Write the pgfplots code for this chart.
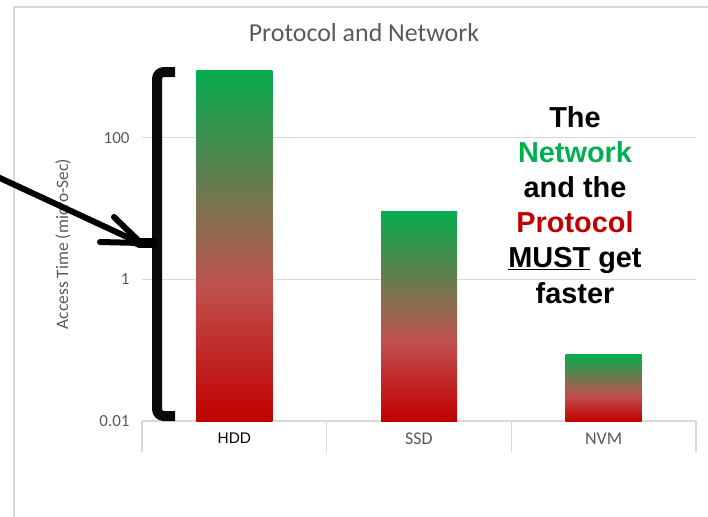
\documentclass[border=0pt]{standalone}
\usepackage{pgfplots}
\pgfplotsset{compat=1.18}
\usepackage{fontspec}
\setmainfont{Carlito}
\newfontfamily\arialfont{Liberation Sans}
\definecolor{txtgray}{HTML}{595959}
\definecolor{gridgray}{HTML}{D9D9D9}
\definecolor{xgreen}{HTML}{00B050}
\definecolor{xred}{HTML}{C00000}
\pgfdeclareverticalshading{barshade}{100bp}{rgb(0bp)=(0.753,0,0); rgb(25bp)=(0.753,0,0); rgb(44bp)=(0.753,0.314,0.302); rgb(75bp)=(0.02,0.675,0.31); rgb(100bp)=(0.02,0.675,0.31)}
\begin{document}
\begin{tikzpicture}
\useasboundingbox (0,0) rectangle (708bp,-517bp);
\draw[gridgray, line width=1.2bp] (14bp,-540bp) -- (14bp,-7bp) -- (740bp,-7bp);
\begin{axis}[
  at={(142bp,-421bp)}, anchor=south west,
  scale only axis, width=554bp, height=354bp,
  ymode=log, ymin=0.01, ymax=1000, log origin=infty,
  xmin=-0.5, xmax=2.5,
  axis x line*=bottom, axis y line*=left,
  y axis line style={draw=none},
  x axis line style={draw=gridgray, line width=1.2bp},
  ytick={0.01,1,100}, yticklabels={0.01,1,100},
  ymajorgrids, grid style={gridgray, line width=1.2bp},
  ytick style={draw=none},
  xtick={-0.5,0.5,1.5,2.5},
  x tick label as interval,
  xticklabels={{\arialfont\color{black}\fontsize{15.5}{15.5}\selectfont HDD},SSD,NVM},
  xtick style={draw=gridgray, line width=1.2bp},
  tick align=outside, major tick length=31bp,
  /pgf/number format/assume math mode=true,
  yticklabel style={font=\fontsize{17}{17}\selectfont, text=txtgray, xshift=22bp},
  xticklabel style={font=\fontsize{18}{18}\selectfont, text=txtgray, yshift=23bp},
  ylabel={Access Time (micro-Sec)},
  every axis y label/.style={at={(rel axis cs:0,0.5)}, xshift=-79bp, rotate=90, anchor=center,
     font=\fontsize{17.5}{17.5}\selectfont, text=txtgray},
]
\addplot[ybar, bar width=76bp, bar shift=0pt, draw=none, shading=barshade] coordinates {(0,900)};
\addplot[ybar, bar width=76bp, bar shift=0pt, draw=none, shading=barshade] coordinates {(1,9)};
\addplot[ybar, bar width=76bp, bar shift=0pt, draw=none, shading=barshade] coordinates {(2,0.087)};
\end{axis}
\node[font=\fontsize{26}{26}\selectfont, text=txtgray] at (364bp,-33bp) {Protocol and Network};
% bracket
\draw[line width=10bp, rounded corners=7bp, color=black!96] (175bp,-72bp) -- (157bp,-72bp) -- (157bp,-416bp) -- (175bp,-416bp);
% arrow
\draw[line width=6bp, line cap=round] (-10bp,-173.4bp) -- (140bp,-243bp);
\draw[line width=6bp, line cap=round, line join=round] (114bp,-217bp) -- (141bp,-243bp) -- (100bp,-242bp);
\draw[line width=10bp, line cap=round] (139bp,-243bp) -- (153bp,-243bp);
% annotation text
\begin{scope}[every node/.style={anchor=base, font=\arialfont\bfseries\fontsize{29}{29}\selectfont, inner sep=0pt}]
\node at (575bp,-127bp) {The};
\node[text=xgreen] at (575bp,-162.2bp) {Network};
\node at (575bp,-197.4bp) {and the};
\node[text=xred] at (575bp,-232.6bp) {Protocol};
\node at (575bp,-267.8bp) {\underline{MUST} get};
\node at (575bp,-303bp) {faster};
\end{scope}
\end{tikzpicture}
\end{document}
